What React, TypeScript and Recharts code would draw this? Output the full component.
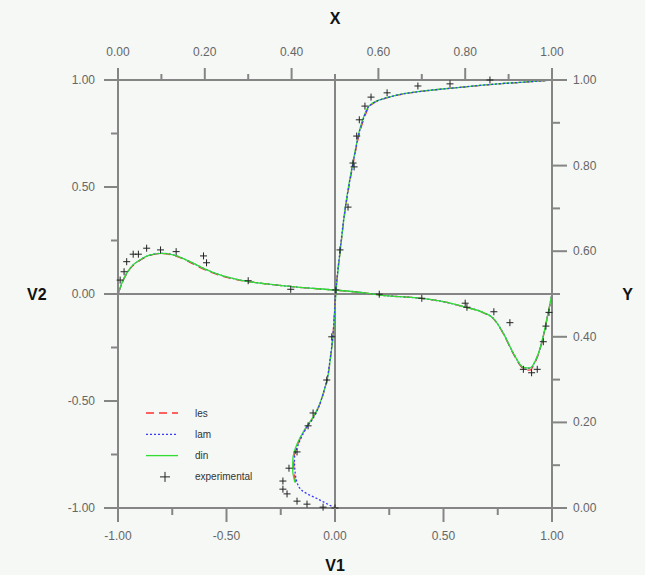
import React from 'react';
import { ComposedChart, Line, Scatter, XAxis, YAxis, ReferenceLine, Legend } from 'recharts';

// ---------- Vertical profile: V1 (bottom axis) against Y (right axis) ----------
const vertY = [0, 0.02, 0.04, 0.06, 0.09, 0.115, 0.14, 0.165, 0.19, 0.21, 0.24, 0.27, 0.30, 0.35, 0.40, 0.45, 0.50, 0.55, 0.60, 0.65, 0.70, 0.75, 0.80, 0.84, 0.87, 0.90, 0.925, 0.94, 0.95, 0.96, 0.968, 0.975, 0.981, 0.987, 0.992, 0.996, 1.0];
const lamV1 = [0, -0.075, -0.15, -0.175, -0.185, -0.187, -0.175, -0.155, -0.128, -0.100, -0.072, -0.053, -0.037, -0.022, -0.010, -0.003, 0.003, 0.012, 0.023, 0.034, 0.047, 0.063, 0.081, 0.096, 0.108, 0.125, 0.143, 0.160, 0.190, 0.250, 0.320, 0.420, 0.540, 0.660, 0.780, 0.900, 1.0];
const lesV1 = [null, null, null, -0.182, -0.190, -0.190, -0.178, -0.158, -0.130, -0.103, -0.072, -0.052, -0.036, -0.021, -0.010, -0.003, 0.003, 0.012, 0.024, 0.035, 0.048, 0.064, 0.082, 0.097, 0.110, 0.127, 0.145, 0.162, 0.192, 0.252, 0.322, 0.422, 0.542, 0.662, 0.782, 0.902, 1.0];
const dinV1 = [null, null, null, -0.185, -0.195, -0.194, -0.182, -0.160, -0.131, -0.104, -0.073, -0.053, -0.036, -0.021, -0.009, -0.002, 0.004, 0.013, 0.024, 0.035, 0.047, 0.062, 0.080, 0.095, 0.107, 0.123, 0.141, 0.158, 0.188, 0.248, 0.318, 0.418, 0.538, 0.658, 0.778, 0.898, 1.0];
const expVertV1 = [0, -0.055, -0.129, -0.175, -0.221, -0.240, -0.240, -0.212, -0.175, -0.124, -0.101, -0.038, -0.015, 0.023, 0.060, 0.083, 0.088, 0.100, 0.112, 0.138, 0.166, 0.240, 0.382, 0.530, 0.714];
const expVertY = [0, 0.002, 0.009, 0.016, 0.033, 0.044, 0.063, 0.093, 0.131, 0.192, 0.222, 0.299, 0.400, 0.603, 0.703, 0.806, 0.797, 0.869, 0.907, 0.939, 0.960, 0.970, 0.986, 0.991, 1.0];

// ---------- Horizontal profile: X (top axis) against V2 (left axis) ----------
const horizX = [0, 0.012, 0.028, 0.051, 0.074, 0.104, 0.135, 0.166, 0.197, 0.235, 0.281, 0.343, 0.419, 0.496, 0.565, 0.604, 0.696, 0.75, 0.796, 0.842, 0.865, 0.888, 0.911, 0.934, 0.949, 0.961, 0.976, 0.991, 1.0];
const lamV2 = [0, 0.065, 0.120, 0.159, 0.182, 0.190, 0.178, 0.151, 0.120, 0.089, 0.065, 0.047, 0.031, 0.019, 0.006, -0.005, -0.020, -0.036, -0.059, -0.087, -0.114, -0.184, -0.277, -0.343, -0.347, -0.316, -0.230, -0.090, 0];
const lesV2 = [0, 0.064, 0.119, 0.158, 0.181, 0.189, 0.176, 0.148, 0.116, 0.087, 0.064, 0.047, 0.031, 0.019, 0.006, -0.005, -0.020, -0.036, -0.059, -0.088, -0.116, -0.186, -0.280, -0.348, -0.356, -0.320, -0.232, -0.091, 0];
const dinV2 = [0, 0.066, 0.121, 0.160, 0.183, 0.190, 0.178, 0.151, 0.120, 0.089, 0.065, 0.047, 0.031, 0.019, 0.006, -0.005, -0.020, -0.036, -0.059, -0.087, -0.114, -0.184, -0.277, -0.343, -0.346, -0.315, -0.229, -0.089, 0];
const expHorizX = [0.005, 0.014, 0.020, 0.035, 0.047, 0.066, 0.098, 0.134, 0.197, 0.204, 0.300, 0.398, 0.502, 0.602, 0.700, 0.800, 0.804, 0.866, 0.903, 0.934, 0.953, 0.966, 0.980, 0.986, 0.993];
const expHorizV2 = [0.065, 0.104, 0.151, 0.186, 0.186, 0.214, 0.206, 0.198, 0.178, 0.146, 0.062, 0.022, 0.019, -0.001, -0.020, -0.043, -0.062, -0.083, -0.134, -0.352, -0.368, -0.352, -0.223, -0.150, -0.086];

// ---------- Ticks / labels ----------
const v1Ticks = [-1, -0.75, -0.5, -0.25, 0, 0.25, 0.5, 0.75, 1];
const v2Ticks = [-1, -0.75, -0.5, -0.25, 0, 0.25, 0.5, 0.75, 1];
const xTicks = [0, 0.1, 0.2, 0.3, 0.4, 0.5, 0.6, 0.7, 0.8, 0.9, 1];
const yTicks = [0, 0.1, 0.2, 0.3, 0.4, 0.5, 0.6, 0.7, 0.8, 0.9, 1];
const legendNames = ['les', 'lam', 'din', 'experimental'];

const COLORS = { les: '#ff3030', lam: '#3a3aff', din: '#30dd30' };
const AXIS = '#858585';
const TICK_TEXT = '#666666';
const FONT = '"Liberation Sans", Arial, sans-serif';

const vertRows = (vals: (number | null)[]) =>
  vertY.map((y, i) => ({ v1: vals[i], y })).filter((r) => r.v1 !== null);
const horizRows = (vals: number[]) => horizX.map((x, i) => ({ x, v2: vals[i] }));

const lesVert = vertRows(lesV1);
const lamVert = vertRows(lamV1);
const dinVert = vertRows(dinV1);
const expVert = expVertV1.map((v1, i) => ({ v1, y: expVertY[i] }));
const lesHoriz = horizRows(lesV2);
const lamHoriz = horizRows(lamV2);
const dinHoriz = horizRows(dinV2);
const expHoriz = expHorizX.map((x, i) => ({ x, v2: expHorizV2[i] }));

const isHalf = (v: number) => Math.abs(v * 2 - Math.round(v * 2)) < 1e-6;
const isFifth = (v: number) => Math.abs(v * 5 - Math.round(v * 5)) < 1e-6;

const makeTick = (orient: 'top' | 'bottom' | 'left' | 'right', isMajor: (v: number) => boolean, major: number, minor: number) =>
  (props: any) => {
    const { x, y, payload } = props;
    const v = payload.value as number;
    const mj = isMajor(v);
    const len = mj ? major : minor;
    const label = mj ? v.toFixed(2) : '';
    const ts = { fontSize: 12, fill: TICK_TEXT, fontFamily: FONT } as any;
    if (orient === 'bottom') {
      return (
        <g>
          <line x1={x} y1={y} x2={x} y2={y + len} stroke={AXIS} strokeWidth={2} />
          {label && <text x={x} y={y + 32} textAnchor="middle" {...ts}>{label}</text>}
        </g>
      );
    }
    if (orient === 'top') {
      return (
        <g>
          <line x1={x} y1={y} x2={x} y2={y - len} stroke={AXIS} strokeWidth={2} />
          {label && <text x={x} y={y - 24} textAnchor="middle" {...ts}>{label}</text>}
        </g>
      );
    }
    if (orient === 'left') {
      return (
        <g>
          <line x1={x} y1={y} x2={x - len} y2={y} stroke={AXIS} strokeWidth={2} />
          {label && <text x={x - 23} y={y + 4} textAnchor="end" {...ts}>{label}</text>}
        </g>
      );
    }
    return (
      <g>
        <line x1={x} y1={y} x2={x + len} y2={y} stroke={AXIS} strokeWidth={2} />
        {label && <text x={x + 21} y={y + 4} textAnchor="start" {...ts}>{label}</text>}
      </g>
    );
  };

const Cross = (props: any) => {
  const { cx, cy } = props;
  if (cx == null || cy == null) return null;
  return <path d={`M${cx - 3.5},${cy}h7M${cx},${cy - 3.5}v7`} stroke="#222" strokeWidth={1} fill="none" />;
};

const renderLegend = () => (
  <svg width={150} height={90} style={{ display: 'block' }}>
    {legendNames.map((name, i) => {
      const cy = 11 + i * 21.3;
      let mark: any;
      if (name === 'les') mark = <line x1={6} y1={cy} x2={38} y2={cy} stroke={COLORS.les} strokeWidth={1.3} strokeDasharray="8 5" />;
      else if (name === 'lam') mark = <line x1={6} y1={cy} x2={38} y2={cy} stroke={COLORS.lam} strokeWidth={1.3} strokeDasharray="2 2" />;
      else if (name === 'din') mark = <line x1={6} y1={cy} x2={38} y2={cy} stroke={COLORS.din} strokeWidth={1.3} />;
      else mark = <path d={`M${20},${cy}h10M${25},${cy - 5}v10`} stroke="#222" strokeWidth={1} />;
      return (
        <g key={name}>
          {mark}
          <text x={55} y={cy + 3.5} fontSize={10} fill="#333" fontFamily={FONT}>{name}</text>
        </g>
      );
    })}
  </svg>
);

const titleStyle = { fontSize: 16, fontWeight: 'bold', fill: '#111', fontFamily: FONT } as any;

export default function App() {
  return (
    <div style={{ position: 'absolute', left: 0, top: 0, width: 645, height: 575, background: '#f5f8f5' }}>
      <ComposedChart width={645} height={575} margin={{ top: 0, right: 0, bottom: 0, left: 0 }}>
        <XAxis
          xAxisId="bottom" orientation="bottom" type="number" dataKey="v1" domain={[-1, 1]} ticks={v1Ticks}
          interval={0} height={67} tickSize={0} tickMargin={0} tickLine={false}
          axisLine={{ stroke: AXIS, strokeWidth: 2 }} tick={makeTick('bottom', isHalf, 14, 7)}
          label={{ value: 'V1', position: 'insideBottom', offset: 4, ...titleStyle }}
        />
        <XAxis
          xAxisId="top" orientation="top" type="number" dataKey="x" domain={[0, 1]} ticks={xTicks}
          interval={0} height={80} tickSize={0} tickMargin={0} tickLine={false}
          axisLine={{ stroke: AXIS, strokeWidth: 2 }} tick={makeTick('top', isFifth, 12, 6)}
          label={{ value: 'X', position: 'insideTop', offset: 13, ...titleStyle }}
        />
        <YAxis
          yAxisId="left" orientation="left" type="number" dataKey="v2" domain={[-1, 1]} ticks={v2Ticks}
          interval={0} width={118} tickSize={0} tickMargin={0} tickLine={false}
          axisLine={{ stroke: AXIS, strokeWidth: 2 }} tick={makeTick('left', isHalf, 14, 7)}
          label={{ value: 'V2', position: 'insideLeft', offset: 27, ...titleStyle }}
        />
        <YAxis
          yAxisId="right" orientation="right" type="number" dataKey="y" domain={[0, 1]} ticks={yTicks}
          interval={0} width={93} tickSize={0} tickMargin={0} tickLine={false}
          axisLine={{ stroke: AXIS, strokeWidth: 2 }} tick={makeTick('right', isFifth, 15, 8)}
          label={{ value: 'Y', position: 'insideRight', offset: 12, ...titleStyle }}
        />
        <ReferenceLine xAxisId="bottom" yAxisId="right" x={0} stroke={AXIS} strokeWidth={2} />
        <ReferenceLine xAxisId="top" yAxisId="left" y={0} stroke={AXIS} strokeWidth={2} />

        <Line name="les" data={lesHoriz} xAxisId="top" yAxisId="left" dataKey="v2" type="monotoneX" stroke={COLORS.les} strokeWidth={1.3} strokeDasharray="8 5" dot={false} activeDot={false} isAnimationActive={false} />
        <Line name="lam" data={lamHoriz} xAxisId="top" yAxisId="left" dataKey="v2" type="monotoneX" stroke={COLORS.lam} strokeWidth={1.3} strokeDasharray="2 2" dot={false} activeDot={false} isAnimationActive={false} />
        <Line name="din" data={dinHoriz} xAxisId="top" yAxisId="left" dataKey="v2" type="monotoneX" stroke={COLORS.din} strokeWidth={1.3} dot={false} activeDot={false} isAnimationActive={false} />

        <Line name="les" data={lesVert} xAxisId="bottom" yAxisId="right" dataKey="y" type="monotoneY" stroke={COLORS.les} strokeWidth={1.3} strokeDasharray="8 5" dot={false} activeDot={false} isAnimationActive={false} />
        <Line name="din" data={dinVert} xAxisId="bottom" yAxisId="right" dataKey="y" type="monotoneY" stroke={COLORS.din} strokeWidth={1.3} dot={false} activeDot={false} isAnimationActive={false} />
        <Line name="lam" data={lamVert} xAxisId="bottom" yAxisId="right" dataKey="y" type="monotoneY" stroke={COLORS.lam} strokeWidth={1.3} strokeDasharray="2 2" dot={false} activeDot={false} isAnimationActive={false} />

        <Scatter name="experimental" data={expHoriz} xAxisId="top" yAxisId="left" dataKey="v2" shape={Cross} isAnimationActive={false} />
        <Scatter name="experimental" data={expVert} xAxisId="bottom" yAxisId="right" dataKey="y" shape={Cross} isAnimationActive={false} />

        <Legend
          layout="vertical" align="center" verticalAlign="middle" content={renderLegend}
          wrapperStyle={{ left: 140, top: 402, width: 150, height: 90 }}
        />
      </ComposedChart>
    </div>
  );
}
